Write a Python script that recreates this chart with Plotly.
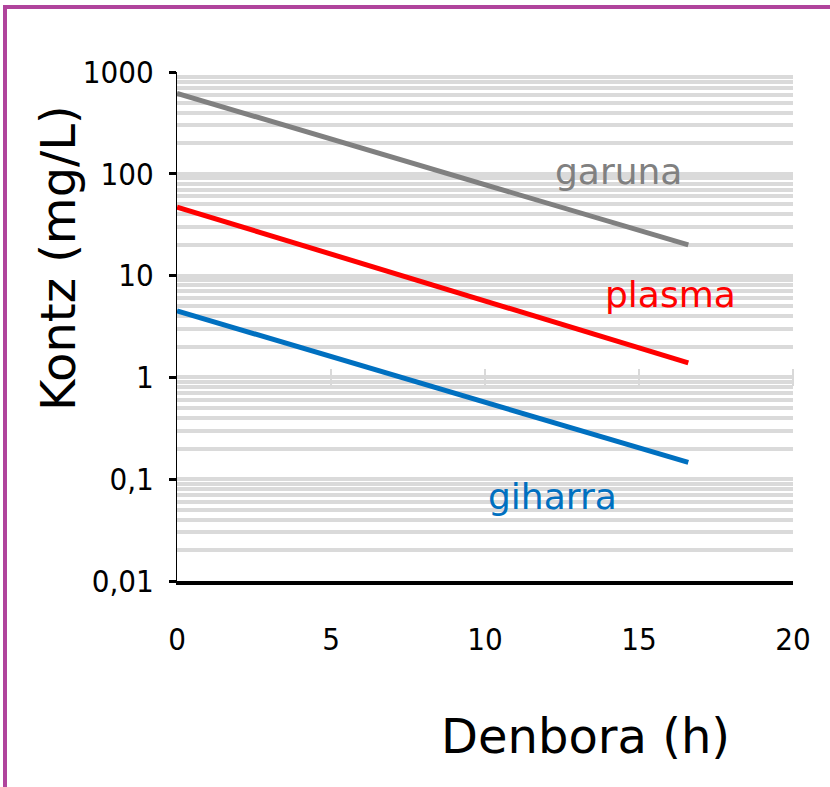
import numpy as np
import plotly.graph_objects as go

# ---- data ----
time_h = [0, 16.6]
garuna = [617, 20]
plasma = [47, 1.39]
giharra = [4.5, 0.146]

series_names = ["garuna", "plasma", "giharra"]
series_values = [garuna, plasma, giharra]
series_colors = ["#808080", "#FF0000", "#0070C0"]
label_x = [14.33, 16.02, 12.19]
label_y = [106, 6.5, 0.068]

y_tickvals = [0.01, 0.1, 1, 10, 100, 1000]
y_ticktext = ["0,01", "0,1", "1", "10", "100", "1000"]
x_tickvals = [0, 5, 10, 15, 20]
x_ticktext = ["0", "5", "10", "15", "20"]

x_title = "Denbora (h)"
y_title = "Kontz (mg/L)"

# ---- layout geometry ----
W, H = 830, 787
L, R, T, B = 177, 37, 72, 206
PW, PH = W - L - R, H - T - B

def px_to_paper_x(px):
    return (px - L) / PW

def px_to_paper_y(py):
    return (H - B - py) / PH

tick_font = dict(family="Liberation Sans Narrow, Arial Narrow, DejaVu Sans Condensed, sans-serif",
                 size=31, color="black")
title_font = dict(family="DejaVu Sans, Verdana, sans-serif", size=48, color="black")
label_font_size = 36

fig = go.Figure()
for name, vals, col in zip(series_names, series_values, series_colors):
    fig.add_trace(go.Scatter(x=time_h, y=vals, mode="lines", name=name,
                             line=dict(color=col, width=5), showlegend=False))

# helper trace for the secondary (tick-only) x axis
fig.add_trace(go.Scatter(x=[], y=[], xaxis="x2", showlegend=False, hoverinfo="skip"))

for name, lx, ly, col in zip(series_names, label_x, label_y, series_colors):
    fig.add_annotation(x=lx, y=np.log10(ly), xref="x", yref="y", text=name, showarrow=False,
                       font=dict(family="DejaVu Sans, Verdana, sans-serif", size=label_font_size, color=col),
                       xanchor="center", yanchor="middle")

fig.add_annotation(x=px_to_paper_x(585), y=px_to_paper_y(736), xref="paper", yref="paper",
                   text=x_title, showarrow=False, font=title_font, xanchor="center", yanchor="middle")
fig.add_annotation(x=px_to_paper_x(58), y=px_to_paper_y(258), xref="paper", yref="paper",
                   text=y_title, showarrow=False, font=title_font, textangle=-90,
                   xanchor="center", yanchor="middle")

# decorative frame
fig.add_shape(type="rect", xref="paper", yref="paper",
              x0=px_to_paper_x(5), x1=px_to_paper_x(900),
              y0=px_to_paper_y(900), y1=px_to_paper_y(7),
              line=dict(color="#B0449C", width=4), fillcolor="rgba(0,0,0,0)", layer="above")

fig.update_layout(
    width=W, height=H,
    margin=dict(l=L, r=R, t=T, b=B, pad=0),
    paper_bgcolor="white", plot_bgcolor="white",
    xaxis=dict(range=[0, 20], tickvals=x_tickvals, ticktext=x_ticktext, showgrid=False,
               zeroline=False, showline=True, linecolor="black", linewidth=4,
               ticks="", ticklabelstandoff=28, tickfont=tick_font),
    xaxis2=dict(overlaying="x", anchor="free", position=px_to_paper_y(368), range=[0, 20],
                tickvals=[5, 10, 15, 20], ticks="outside", ticklen=17, tickwidth=2,
                tickcolor="#D9D9D9", showticklabels=False, showline=False, showgrid=False,
                zeroline=False),
    yaxis=dict(type="log", range=[-2, 3], tickvals=y_tickvals, ticktext=y_ticktext,
               showline=True, linecolor="black", linewidth=1, zeroline=False,
               ticks="outside", ticklen=7, tickwidth=3, tickcolor="black",
               showgrid=True, gridcolor="#DADADA", gridwidth=3.5,
               minor=dict(dtick="D1", showgrid=True, gridcolor="#DADADA", gridwidth=3.5, ticks=""),
               ticklabelstandoff=9, tickfont=tick_font),
)

fig.write_html("out.html")
